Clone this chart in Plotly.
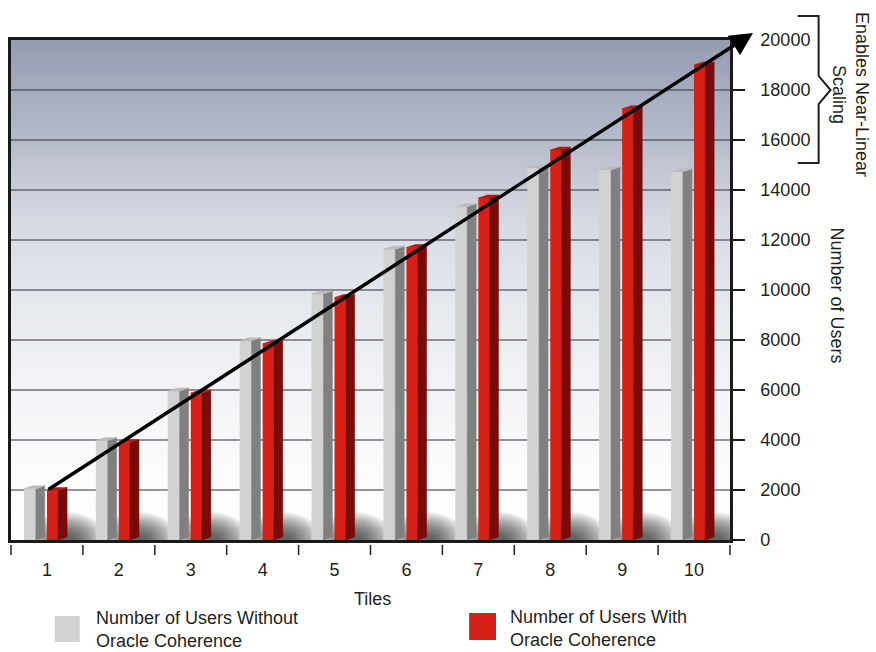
import plotly.graph_objects as go

# ---- data -------------------------------------------------------------
tiles = list(range(1, 11))
users_without = [2050, 3980, 5960, 7970, 9840, 11630, 13330, 14880, 14800, 14730]
users_with = [1980, 3900, 5880, 7850, 9700, 11700, 13680, 15600, 17250, 19000]
y_ticks = list(range(0, 20001, 2000))
y_tick_text = [str(v) for v in y_ticks]
legend_without = "Number of Users Without<br>Oracle Coherence"
legend_with = "Number of Users With<br>Oracle Coherence"

# ---- layout geometry --------------------------------------------------
W, H = 876, 652
ML, MR, MT, MB = 8, 146, 40, 112
PW = W - ML - MR
PH = H - MT - MB
X_RANGE = [0.5, 10.5]
Y_RANGE = [0, 20000]
UX = PW / (X_RANGE[1] - X_RANGE[0])   # pixels per x unit
UY = PH / (Y_RANGE[1] - Y_RANGE[0])   # pixels per y unit

FONT = "Liberation Sans, Arial, Helvetica, sans-serif"
TXT = "#231f20"


def px_x(px):
    return (px - ML) / PW


def px_y(py):
    return (H - MB - py) / PH


def data_x_to_paper(x):
    return (x - X_RANGE[0]) / (X_RANGE[1] - X_RANGE[0])


# depth of the pseudo-3D prisms
DEPTH_X = 9 / UX
DEPTH_Y = 3 / UY

series = [
    dict(name="without", values=users_without, offset=-0.32, width=0.165,
         front="#d2d2d2", side="#808080", cap="#bcbcbc"),
    dict(name="with", values=users_with, offset=0.0, width=0.155,
         front="#d42016", side="#7a0b0b", cap="#b3170f"),
]

fig = go.Figure()

# front faces
for s in series:
    fig.add_trace(go.Bar(
        x=tiles, y=s["values"], offset=s["offset"], width=s["width"],
        marker=dict(color=s["front"], line=dict(width=0)),
        hoverinfo="skip", showlegend=False,
    ))

# side faces and top caps
for s in series:
    sx, sy, cx, cy = [], [], [], []
    for t, v in zip(tiles, s["values"]):
        xl = t + s["offset"]
        xr = xl + s["width"]
        sx += [xr, xr, xr + DEPTH_X, xr + DEPTH_X, xr, None]
        sy += [0, v, v + DEPTH_Y, DEPTH_Y, 0, None]
        cx += [xl, xr, xr + DEPTH_X, xl + DEPTH_X, xl, None]
        cy += [v, v, v + DEPTH_Y, v + DEPTH_Y, v, None]
    fig.add_trace(go.Scatter(x=sx, y=sy, mode="lines", fill="toself",
                             fillcolor=s["side"], line=dict(width=0.5, color=s["side"]),
                             hoverinfo="skip", showlegend=False))
    fig.add_trace(go.Scatter(x=cx, y=cy, mode="lines", fill="toself",
                             fillcolor=s["cap"], line=dict(width=0.5, color=s["cap"]),
                             hoverinfo="skip", showlegend=False))

shapes = []

# vertical background gradient of the plotting area
stops = [
    (0.00, (255, 255, 255)),
    (0.12, (252, 252, 253)),
    (0.25, (245, 246, 248)),
    (0.36, (238, 240, 244)),
    (0.50, (227, 230, 236)),
    (0.64, (214, 217, 226)),
    (0.80, (182, 187, 202)),
    (0.90, (166, 171, 190)),
    (1.00, (150, 155, 177)),
]


def grad_color(p):
    for (p0, c0), (p1, c1) in zip(stops[:-1], stops[1:]):
        if p0 <= p <= p1:
            f = (p - p0) / (p1 - p0)
            return "rgb(%d,%d,%d)" % tuple(round(a + (b - a) * f) for a, b in zip(c0, c1))
    return "rgb(%d,%d,%d)" % stops[-1][1]


N_BANDS = 120
for i in range(N_BANDS):
    y0 = i / N_BANDS
    y1 = (i + 1) / N_BANDS
    shapes.append(dict(type="rect", xref="paper", yref="paper", x0=0, x1=1,
                       y0=y0, y1=y1 + 0.002, layer="below",
                       fillcolor=grad_color((y0 + y1) / 2), line=dict(width=0)))

# soft floor shadows to the right of each red prism (stacked faint ellipses)
N_SHADOW = 14
for t in tiles:
    cxs = t + 0.155 + DEPTH_X
    for k in range(N_SHADOW):
        f = 1 - k / N_SHADOW
        rx = 6 + 34 * f
        ry = 4 + 24 * f
        shapes.append(dict(type="circle", xref="x", yref="y", layer="below",
                           x0=cxs - rx / UX, x1=cxs + rx / UX,
                           y0=-ry / UY, y1=ry / UY,
                           fillcolor="rgba(20,20,20,0.065)", line=dict(width=0)))

# category boundary ticks below the floor line
for k in range(len(tiles) + 1):
    xb = data_x_to_paper(tiles[0] - 0.5 + k)
    shapes.append(dict(type="line", xref="paper", yref="paper",
                       x0=xb, x1=xb, y0=px_y(545), y1=px_y(555),
                       line=dict(color=TXT, width=1.5)))

# curly bracket on the right
bx0, bx1, bxp = 798, 819, 831
by0, by1, bym = 16, 163, 90
bracket = "M{},{} L{},{} L{},{} L{},{} L{},{} L{},{} L{},{}".format(
    px_x(bx0), px_y(by0), px_x(bx1), px_y(by0), px_x(bx1), px_y(bym - 14),
    px_x(bxp), px_y(bym), px_x(bx1), px_y(bym + 14), px_x(bx1), px_y(by1),
    px_x(bx0), px_y(by1))
shapes.append(dict(type="path", xref="paper", yref="paper", path=bracket,
                   line=dict(color=TXT, width=2)))

# legend swatches
shapes.append(dict(type="rect", xref="paper", yref="paper",
                   x0=px_x(52), x1=px_x(77), y0=px_y(642), y1=px_y(616),
                   fillcolor=series[0]["front"], line=dict(width=0)))
shapes.append(dict(type="rect", xref="paper", yref="paper",
                   x0=px_x(468), x1=px_x(495), y0=px_y(640), y1=px_y(613),
                   fillcolor=series[1]["front"], line=dict(width=0)))

text_font = dict(size=18, color=TXT, family=FONT)
annotations = [
    # growth arrow from the first red prism to the top right
    dict(x=10.82, y=20280, ax=tiles[0], ay=users_with[0],
         xref="x", yref="y", axref="x", ayref="y", text="",
         showarrow=True, arrowhead=2, arrowsize=1.3, arrowwidth=3.5,
         arrowcolor="#000000", standoff=0, startstandoff=0),
    dict(x=px_x(837), y=px_y(295), xref="paper", yref="paper",
         text="Number of Users", textangle=90, showarrow=False,
         xanchor="center", yanchor="middle", font=text_font),
    dict(x=px_x(851.5), y=px_y(95), xref="paper", yref="paper",
         text="Enables Near-Linear<br>Scaling", textangle=90, showarrow=False,
         xanchor="center", yanchor="middle", font=text_font),
    dict(x=px_x(371), y=px_y(599), xref="paper", yref="paper",
         text="Tiles", showarrow=False,
         xanchor="center", yanchor="middle", font=text_font),
    dict(x=px_x(91), y=px_y(629), xref="paper", yref="paper",
         text=legend_without, showarrow=False, align="left",
         xanchor="left", yanchor="middle", font=text_font),
    dict(x=px_x(507), y=px_y(628), xref="paper", yref="paper",
         text=legend_with, showarrow=False, align="left",
         xanchor="left", yanchor="middle", font=text_font),
]

fig.update_layout(
    width=W, height=H,
    margin=dict(l=ML, r=MR, t=MT, b=MB, pad=0),
    paper_bgcolor="#ffffff",
    plot_bgcolor="rgba(0,0,0,0)",
    barmode="overlay",
    showlegend=False,
    shapes=shapes,
    annotations=annotations,
    font=dict(family=FONT, size=18, color=TXT),
    xaxis=dict(range=X_RANGE, tickvals=tiles, ticktext=[str(t) for t in tiles],
               ticks="", showgrid=False, zeroline=False,
               showline=True, mirror=True, linecolor="#1a1a1a", linewidth=2.5,
               ticklabelstandoff=12, tickfont=text_font),
    yaxis=dict(range=Y_RANGE, side="right", tickvals=y_ticks, ticktext=y_tick_text,
               ticks="outside", ticklen=12, tickwidth=2, tickcolor="#1a1a1a",
               showgrid=True, gridcolor="rgba(45,45,55,0.5)", gridwidth=2,
               zeroline=False, showline=True, mirror=True,
               linecolor="#1a1a1a", linewidth=2.5,
               ticklabelstandoff=12, tickfont=text_font),
)

fig.write_html("out.html")
